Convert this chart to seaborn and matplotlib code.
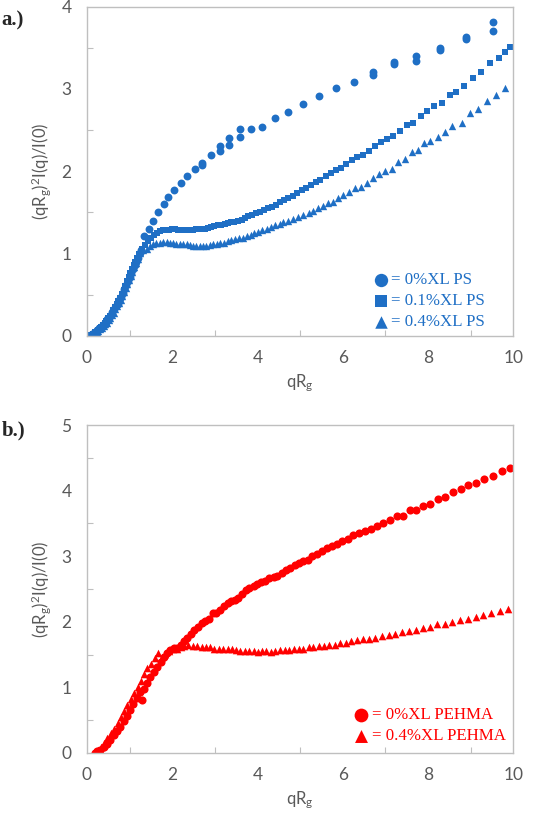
import matplotlib
matplotlib.use("Agg")
import matplotlib.pyplot as plt
import seaborn as sns
from matplotlib.ticker import MultipleLocator

# ---- panel a: PS ----
ps0_q = [0.12, 0.16, 0.20, 0.24, 0.28, 0.32, 0.36, 0.40, 0.44, 0.48, 0.52, 0.56, 0.60, 0.64, 0.68,
         0.72, 0.76, 0.80, 0.84, 0.88, 0.92, 0.96, 1.00, 1.04, 1.08, 1.12, 1.16, 1.20, 1.24, 1.28,
         1.34, 1.46, 1.56, 1.66, 1.80, 1.91, 2.05, 2.20, 2.36, 2.53, 2.71, 2.71, 2.91, 3.12, 3.12,
         3.34, 3.34, 3.59, 3.59, 3.85, 4.12, 4.42, 4.73, 5.08, 5.45, 5.84, 6.27, 6.72, 6.72, 7.21,
         7.21, 7.73, 7.73, 8.28, 8.28, 8.89, 8.89, 9.53, 9.53]
ps0_y = [0.02, 0.03, 0.05, 0.07, 0.09, 0.11, 0.12, 0.14, 0.17, 0.20, 0.22, 0.25, 0.29, 0.32, 0.36,
         0.39, 0.43, 0.47, 0.52, 0.57, 0.62, 0.66, 0.71, 0.76, 0.81, 0.86, 0.90, 0.95, 1.00, 1.04,
         1.21, 1.30, 1.40, 1.50, 1.60, 1.69, 1.77, 1.86, 1.94, 2.02, 2.10, 2.07, 2.19, 2.30, 2.25,
         2.40, 2.32, 2.51, 2.41, 2.51, 2.54, 2.64, 2.72, 2.81, 2.91, 3.01, 3.08, 3.21, 3.17, 3.32,
         3.30, 3.40, 3.34, 3.49, 3.47, 3.63, 3.61, 3.81, 3.70]

ps1_q = [0.10, 0.14, 0.18, 0.22, 0.26, 0.30, 0.34, 0.38, 0.42, 0.46, 0.50, 0.54, 0.58, 0.62, 0.66,
         0.70, 0.74, 0.78, 0.82, 0.86, 0.90, 0.94, 0.98, 1.02, 1.06, 1.10, 1.14, 1.18, 1.22,
         1.29, 1.36, 1.43, 1.50, 1.57, 1.64, 1.71, 1.78, 1.85, 1.92, 1.99, 2.06, 2.13, 2.20, 2.27,
         2.34, 2.41, 2.48, 2.55, 2.63, 2.70, 2.77, 2.84, 2.91, 2.99, 3.07, 3.15, 3.23, 3.30, 3.38,
         3.46, 3.54, 3.63, 3.71, 3.79, 3.88, 3.97, 4.06, 4.16, 4.24, 4.34, 4.43, 4.53, 4.62, 4.73,
         4.83, 4.94, 5.04, 5.14, 5.26, 5.38, 5.48, 5.60, 5.72, 5.84, 5.95, 6.09, 6.21, 6.34, 6.48,
         6.62, 6.76, 6.90, 7.05, 7.19, 7.34, 7.50, 7.66, 7.83, 7.98, 8.15, 8.32, 8.52, 8.67, 8.85,
         9.05, 9.24, 9.45, 9.66, 9.80, 9.92]
ps1_y = [0.01, 0.02, 0.04, 0.05, 0.07, 0.09, 0.11, 0.13, 0.15, 0.18, 0.21, 0.24, 0.27, 0.31, 0.35,
         0.38, 0.42, 0.46, 0.51, 0.56, 0.61, 0.66, 0.71, 0.76, 0.81, 0.86, 0.90, 0.95, 0.99,
         1.05, 1.10, 1.15, 1.19, 1.22, 1.25, 1.27, 1.28, 1.28, 1.29, 1.30, 1.30, 1.29, 1.29, 1.29,
         1.29, 1.29, 1.29, 1.30, 1.30, 1.30, 1.30, 1.31, 1.32, 1.33, 1.34, 1.34, 1.36, 1.37, 1.38,
         1.38, 1.40, 1.41, 1.43, 1.45, 1.47, 1.49, 1.50, 1.53, 1.55, 1.57, 1.59, 1.63, 1.65, 1.67,
         1.70, 1.73, 1.77, 1.80, 1.83, 1.87, 1.89, 1.94, 1.98, 2.01, 2.04, 2.09, 2.13, 2.17, 2.20,
         2.25, 2.30, 2.35, 2.39, 2.43, 2.49, 2.56, 2.59, 2.67, 2.73, 2.79, 2.83, 2.93, 2.96, 3.04,
         3.13, 3.20, 3.31, 3.38, 3.45, 3.51]

ps4_q = [0.11, 0.15, 0.19, 0.23, 0.27, 0.31, 0.35, 0.39, 0.43, 0.47, 0.51, 0.55, 0.59, 0.63, 0.67,
         0.71, 0.75, 0.79, 0.83, 0.87, 0.91, 0.95, 0.99, 1.03, 1.07, 1.11, 1.15, 1.19,
         1.24, 1.32, 1.40, 1.48, 1.55, 1.63, 1.71, 1.79, 1.87, 1.95, 2.02, 2.10, 2.18, 2.26, 2.34,
         2.41, 2.49, 2.57, 2.65, 2.73, 2.80, 2.88, 2.97, 3.05, 3.13, 3.22, 3.30, 3.39, 3.48, 3.56,
         3.66, 3.75, 3.84, 3.93, 4.02, 4.12, 4.22, 4.31, 4.41, 4.52, 4.61, 4.73, 4.84, 4.96, 5.08,
         5.20, 5.31, 5.43, 5.55, 5.66, 5.78, 5.90, 6.02, 6.16, 6.29, 6.42, 6.56, 6.72, 6.86, 7.00,
         7.15, 7.30, 7.46, 7.63, 7.77, 7.90, 8.06, 8.23, 8.40, 8.57, 8.79, 8.98, 9.18, 9.38, 9.59,
         9.80]
ps4_y = [0.01, 0.02, 0.03, 0.05, 0.06, 0.08, 0.10, 0.12, 0.14, 0.16, 0.19, 0.22, 0.25, 0.28, 0.32,
         0.36, 0.40, 0.44, 0.48, 0.53, 0.58, 0.63, 0.68, 0.73, 0.78, 0.83, 0.88, 0.93,
         1.00, 1.04, 1.06, 1.09, 1.11, 1.13, 1.13, 1.14, 1.14, 1.13, 1.13, 1.12, 1.12, 1.11, 1.11,
         1.10, 1.09, 1.09, 1.09, 1.09, 1.09, 1.10, 1.11, 1.11, 1.13, 1.13, 1.15, 1.16, 1.17, 1.19,
         1.19, 1.21, 1.23, 1.25, 1.26, 1.28, 1.30, 1.32, 1.34, 1.36, 1.38, 1.40, 1.42, 1.44, 1.47,
         1.49, 1.52, 1.55, 1.58, 1.61, 1.63, 1.67, 1.71, 1.75, 1.79, 1.81, 1.85, 1.92, 1.96, 2.00,
         2.02, 2.11, 2.15, 2.23, 2.26, 2.34, 2.37, 2.42, 2.48, 2.55, 2.58, 2.71, 2.75, 2.85, 2.92,
         3.01]

# ---- panel b: PEHMA ----
pe0_q = [0.18, 0.23, 0.31, 0.39, 0.47, 0.55, 0.63, 0.70, 0.78, 0.86, 0.94, 1.02, 1.09, 1.17, 1.25,
         1.29, 1.34, 1.41, 1.49, 1.57, 1.65, 1.73, 1.80, 1.88, 1.96, 2.04, 2.12, 2.20, 2.27, 2.35,
         2.44, 2.52, 2.61, 2.70, 2.78, 2.87, 2.95, 3.04, 3.13, 3.21, 3.30, 3.38, 3.47, 3.55, 3.64,
         3.73, 3.81, 3.91, 4.00, 4.09, 4.19, 4.28, 4.38, 4.47, 4.57, 4.67, 4.77, 4.88, 4.98, 5.08,
         5.18, 5.29, 5.39, 5.51, 5.63, 5.74, 5.86, 5.98, 6.12, 6.25, 6.39, 6.53, 6.67, 6.81, 6.95,
         7.11, 7.27, 7.42, 7.58, 7.73, 7.89, 8.05, 8.23, 8.40, 8.58, 8.77, 8.95, 9.13, 9.32, 9.52,
         9.73, 9.92]
pe0_y = [0.00, 0.03, 0.05, 0.09, 0.14, 0.20, 0.27, 0.33, 0.40, 0.49, 0.56, 0.65, 0.74, 0.83, 0.93,
         0.80, 0.98, 1.07, 1.16, 1.24, 1.31, 1.39, 1.46, 1.52, 1.57, 1.60, 1.60, 1.64, 1.71, 1.76,
         1.82, 1.88, 1.92, 1.98, 2.01, 2.05, 2.13, 2.14, 2.18, 2.24, 2.29, 2.32, 2.34, 2.37, 2.43,
         2.48, 2.51, 2.54, 2.57, 2.60, 2.62, 2.67, 2.69, 2.70, 2.75, 2.79, 2.82, 2.86, 2.90, 2.92,
         2.95, 3.01, 3.03, 3.08, 3.13, 3.15, 3.19, 3.23, 3.27, 3.32, 3.35, 3.38, 3.42, 3.46, 3.51,
         3.55, 3.61, 3.61, 3.70, 3.71, 3.77, 3.80, 3.87, 3.91, 3.98, 4.02, 4.09, 4.12, 4.18, 4.23,
         4.30, 4.34]

pe4_q = [0.17, 0.25, 0.33, 0.41, 0.48, 0.56, 0.64, 0.72, 0.80, 0.88, 0.95, 1.03, 1.11, 1.19, 1.27,
         1.34, 1.42, 1.50, 1.59, 1.67, 1.76, 1.84, 1.93, 2.02, 2.11, 2.20, 2.29, 2.38, 2.48, 2.59,
         2.69, 2.79, 2.89, 2.99, 3.09, 3.20, 3.30, 3.40, 3.50, 3.60, 3.70, 3.80, 3.91, 4.01, 4.11,
         4.21, 4.31, 4.42, 4.53, 4.64, 4.75, 4.86, 4.97, 5.08, 5.20, 5.31, 5.44, 5.56, 5.69, 5.81,
         5.94, 6.07, 6.20, 6.34, 6.48, 6.63, 6.77, 6.92, 7.08, 7.23, 7.39, 7.55, 7.71, 7.88, 8.05,
         8.22, 8.39, 8.57, 8.75, 8.93, 9.12, 9.30, 9.49, 9.69, 9.88]
pe4_y = [0.01, 0.04, 0.09, 0.15, 0.22, 0.30, 0.37, 0.46, 0.55, 0.64, 0.73, 0.82, 0.91, 1.01, 1.10,
         1.20, 1.29, 1.36, 1.44, 1.52, 1.46, 1.51, 1.56, 1.59, 1.59, 1.61, 1.63, 1.64, 1.63, 1.63,
         1.62, 1.62, 1.61, 1.59, 1.59, 1.58, 1.58, 1.58, 1.57, 1.56, 1.56, 1.56, 1.56, 1.54, 1.56,
         1.56, 1.54, 1.56, 1.57, 1.57, 1.57, 1.58, 1.58, 1.59, 1.61, 1.62, 1.63, 1.63, 1.64, 1.65,
         1.67, 1.68, 1.70, 1.72, 1.73, 1.74, 1.76, 1.78, 1.80, 1.82, 1.85, 1.86, 1.88, 1.90, 1.92,
         1.96, 1.97, 2.00, 2.02, 2.05, 2.08, 2.11, 2.14, 2.16, 2.19]

blue = "#1f6fc5"
red = "#ff0000"
tick_grey = "#595959"

sns.set_style("white")
plt.rcParams["font.family"] = ["Lato", "DejaVu Sans"]
plt.rcParams["mathtext.default"] = "regular"

fig = plt.figure(figsize=(5.43, 8.13), dpi=100)
ax1 = fig.add_axes([0.160, 0.587, 0.785, 0.405])
ax2 = fig.add_axes([0.160, 0.074, 0.785, 0.403])

legend_font = {"family": "Liberation Serif", "size": 12.2}

sns.scatterplot(x=ps0_q, y=ps0_y, marker="o", color=blue, s=32, linewidth=0, ax=ax1, label="= 0%XL PS")
sns.scatterplot(x=ps1_q, y=ps1_y, marker="s", color=blue, s=24, linewidth=0, ax=ax1, label="= 0.1%XL PS")
sns.scatterplot(x=ps4_q, y=ps4_y, marker="^", color=blue, s=28, linewidth=0, ax=ax1, label="= 0.4%XL PS")

sns.scatterplot(x=pe0_q, y=pe0_y, marker="o", color=red, s=34, linewidth=0, ax=ax2, label="= 0%XL PEHMA")
sns.scatterplot(x=pe4_q, y=pe4_y, marker="^", color=red, s=30, linewidth=0, ax=ax2, label="= 0.4%XL PEHMA")

panels = [(ax1, 4, blue, (0.962, -0.02)), (ax2, 5, red, (1.01, -0.01))]
for ax, ymax, col, anchor in panels:
    ax.set_xlim(0, 10)
    ax.set_ylim(0, ymax)
    ax.xaxis.set_major_locator(MultipleLocator(2))
    ax.xaxis.set_minor_locator(MultipleLocator(1))
    ax.yaxis.set_major_locator(MultipleLocator(1))
    ax.yaxis.set_minor_locator(MultipleLocator(0.5))
    ax.tick_params(which="major", length=0, labelsize=12.5, labelcolor=tick_grey)
    ax.tick_params(axis="x", which="major", pad=10)
    ax.tick_params(axis="y", which="major", pad=11)
    ax.tick_params(which="minor", direction="in", length=4, width=0.8, color="#bfbfbf")
    ax.tick_params(axis="x", which="minor", bottom=True)
    ax.tick_params(axis="y", which="minor", left=True)
    for sp in ax.spines.values():
        sp.set_color("#bfbfbf")
        sp.set_linewidth(1.0)
    ax.set_xlabel("qR$_g$", fontsize=12, color=tick_grey, labelpad=5)
    ax.set_ylabel("(qR$_g$)$^2$I(q)/I(0)", fontsize=12, color=tick_grey, labelpad=6)
    leg = ax.legend(loc="lower right", bbox_to_anchor=anchor, frameon=False, prop=legend_font,
                    markerscale=1.7, handletextpad=0.0, handlelength=1.2, labelspacing=0.3,
                    borderaxespad=0.3)
    for t in leg.get_texts():
        t.set_color(col)

fig.text(0.003, 0.975, "a.)", fontsize=15, fontweight="bold", family="Liberation Serif", va="center")
fig.text(0.003, 0.470, "b.)", fontsize=15, fontweight="bold", family="Liberation Serif", va="center")

fig.savefig("out.png", dpi=100)
